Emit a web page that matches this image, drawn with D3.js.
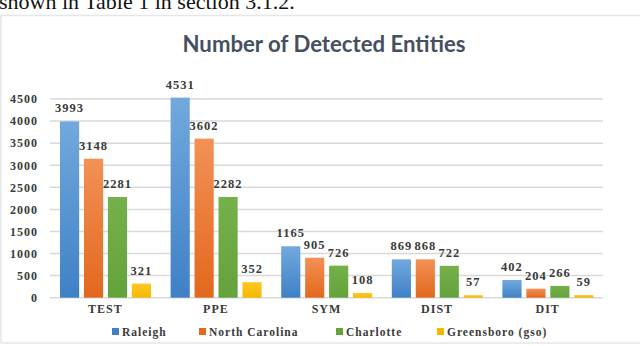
<!DOCTYPE html>
<html>
<head>
<meta charset="utf-8">
<script src="https://cdn.jsdelivr.net/npm/d3@7"></script>
<style>
  body { margin: 0; background: #fff; }
  svg { display: block; }
</style>
</head>
<body>
<svg id="chart" width="640" height="346"></svg>
<script>
// data
const categories = ["TEST", "PPE", "SYM", "DIST", "DIT"];
const seriesNames = ["Raleigh", "North Carolina", "Charlotte", "Greensboro (gso)"];
const raleigh = [3993, 4531, 1165, 869, 402];
const northCarolina = [3148, 3602, 905, 868, 204];
const charlotte = [2281, 2282, 726, 722, 266];
const greensboro = [321, 352, 108, 57, 59];
const yTicks = [0, 500, 1000, 1500, 2000, 2500, 3000, 3500, 4000, 4500];

const series = [raleigh, northCarolina, charlotte, greensboro];
const colors = [["#72a9dd", "#3f80c6"], ["#f39156", "#e2681d"], ["#75b14b", "#64a23b"], ["#ffc824", "#f5b800"]];

const svg = d3.select("#chart");

// caption text cut at the top
svg.append("text")
  .attr("x", -1).attr("y", 9)
  .attr("font-family", "Liberation Serif")
  .attr("font-size", 22)
  .attr("fill", "#111")
  .text("shown in Table 1 in section 3.1.2.");

// chart frame
svg.append("rect")
  .attr("x", 1).attr("y", 15.5)
  .attr("width", 660).attr("height", 327.5)
  .attr("fill", "#fff")
  .attr("stroke", "#e3e6ea")
  .attr("stroke-width", 1.5);

const defs = svg.append("defs");
colors.forEach((c, i) => {
  const g = defs.append("linearGradient").attr("id", "g" + i)
    .attr("x1", 0).attr("y1", 0).attr("x2", 0).attr("y2", 1);
  g.append("stop").attr("offset", "0%").attr("stop-color", c[0]);
  g.append("stop").attr("offset", "100%").attr("stop-color", c[1]);
});

svg.append("text")
  .attr("x", 324).attr("y", 52)
  .attr("text-anchor", "middle")
  .attr("font-family", "Lato")
  .attr("font-weight", "bold")
  .attr("font-size", 22)
  .attr("textLength", 283)
  .attr("lengthAdjust", "spacingAndGlyphs")
  .attr("fill", "#45505f")
  .text("Number of Detected Entities");

const y = d3.scaleLinear().domain([0, 4500]).range([297.7, 99]);
const x0 = d3.scaleBand().domain(categories).range([50, 603]);
const x1 = d3.scaleBand().domain(d3.range(4)).range([10, 101]).paddingInner(0.2);

// grid
svg.append("g")
  .selectAll("line")
  .data(yTicks)
  .join("line")
  .attr("x1", 50).attr("x2", 603)
  .attr("y1", d => y(d)).attr("y2", d => y(d))
  .attr("stroke", "#d9d9d9")
  .attr("stroke-width", 1.5);

const serif = "Liberation Serif";

const yAxis = svg.append("g")
  .attr("transform", "translate(38,0)")
  .call(d3.axisLeft(y).tickValues(yTicks).tickFormat(d3.format("d")).tickSize(0).tickPadding(0));
yAxis.select(".domain").remove();
yAxis.selectAll("text")
  .attr("font-family", serif)
  .attr("font-weight", "bold")
  .attr("font-size", 12)
  .attr("letter-spacing", 1)
  .attr("fill", "#3a3a3a");

const xAxis = svg.append("g")
  .attr("transform", "translate(0,297.7)")
  .call(d3.axisBottom(x0).tickSize(0).tickPadding(7));
xAxis.select(".domain").remove();
xAxis.selectAll("text")
  .attr("font-family", serif)
  .attr("font-weight", "bold")
  .attr("font-size", 12)
  .attr("letter-spacing", 1)
  .attr("fill", "#3a3a3a");

// bars
const groups = svg.append("g")
  .selectAll("g")
  .data(categories)
  .join("g")
  .attr("transform", d => `translate(${x0(d)},0)`);

groups.selectAll("rect")
  .data((c, ci) => series.map((s, si) => ({ si, v: s[ci] })))
  .join("rect")
  .attr("x", d => x1(d.si))
  .attr("width", x1.bandwidth())
  .attr("y", d => y(d.v))
  .attr("height", d => y(0) - y(d.v))
  .attr("fill", d => `url(#g${d.si})`);

groups.selectAll("text")
  .data((c, ci) => series.map((s, si) => ({ si, v: s[ci] })))
  .join("text")
  .attr("x", d => x1(d.si) + x1.bandwidth() / 2)
  .attr("y", d => y(d.v) - 9)
  .attr("text-anchor", "middle")
  .attr("font-family", serif)
  .attr("font-weight", "bold")
  .attr("font-size", 12.5)
  .attr("letter-spacing", 1)
  .attr("fill", "#3a3a3a")
  .text(d => d.v);

// legend
const legendX = [112, 199, 336, 437];
const legend = svg.append("g")
  .selectAll("g")
  .data(seriesNames)
  .join("g")
  .attr("transform", (d, i) => `translate(${legendX[i]},332)`);
legend.append("rect")
  .attr("x", 0).attr("y", -4)
  .attr("width", 7).attr("height", 7)
  .attr("fill", (d, i) => colors[i][1]);
legend.append("text")
  .attr("x", 10).attr("y", 4)
  .attr("font-family", serif)
  .attr("font-weight", "bold")
  .attr("font-size", 11.5)
  .attr("letter-spacing", 1)
  .attr("fill", "#3a3a3a")
  .text(d => d);
</script>
</body>
</html>
